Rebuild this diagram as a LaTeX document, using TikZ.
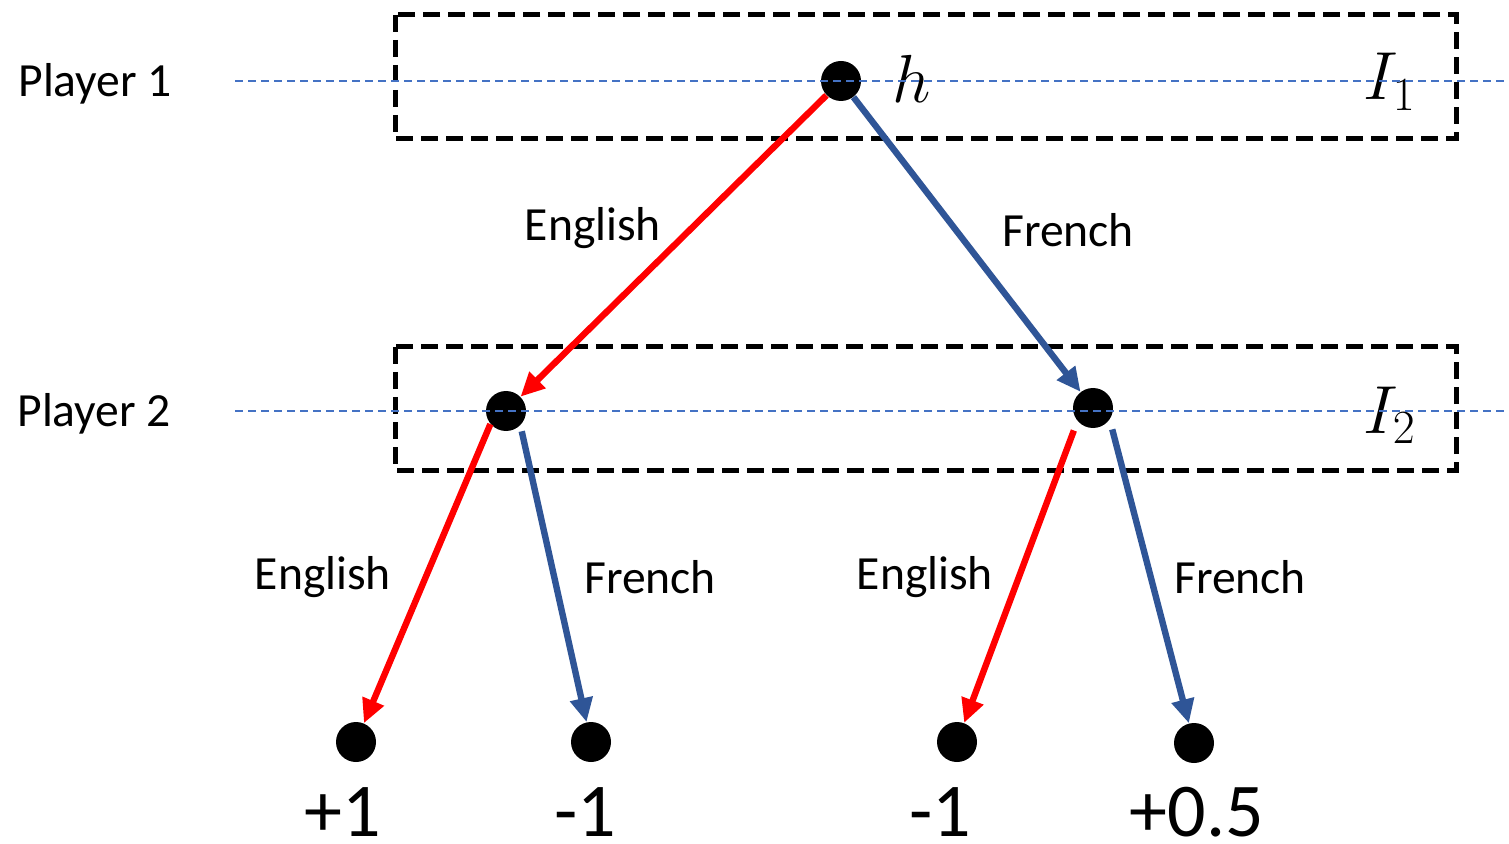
\documentclass[tikz,border=0pt]{standalone}
\usepackage{fix-cm}
\usepackage{fontspec}
\setmainfont{Carlito}
\usetikzlibrary{arrows.meta}
\definecolor{frblue}{RGB}{47,85,151}
\definecolor{lvblue}{RGB}{68,114,196}

\begin{document}
\begin{tikzpicture}[
  x=0.5pt, y=-0.5pt,
  dot/.style={circle, fill=black, minimum size=20pt, inner sep=0pt},
  eng/.style={-{Triangle[length=12pt,width=11pt]}, line width=3.2pt, draw=red},
  fre/.style={-{Triangle[length=12pt,width=11pt]}, line width=3.2pt, draw=frblue},
  infoset/.style={draw, line width=2.5pt, dash pattern=on 8.5pt off 4pt},
  level/.style={draw=lvblue, line width=0.8pt, dash pattern=on 4pt off 2.5pt},
  act/.style={font=\fontsize{23.8}{28}\selectfont},
  pay/.style={font=\fontsize{38}{44}\selectfont, anchor=base, inner sep=0pt, text depth=0pt},
  mlab/.style={font=\fontsize{34}{40}\selectfont, anchor=base west, inner sep=0pt}
]
  \useasboundingbox (0,0) rectangle (1509,844);

  % information sets
  \draw[infoset] (395,15) rectangle (1456,139);
  \draw[infoset] (395,347) rectangle (1456,470);

  % tree
  \node[dot] (root) at (841,81) {};
  \node[dot] (p2e) at (506,411) {};
  \node[dot] (p2f) at (1093,408) {};
  \node[dot] (ee) at (356,742) {};
  \node[dot] (ef) at (591,742) {};
  \node[dot] (fe) at (957,742) {};
  \node[dot] (ff) at (1194,743) {};

  \draw[eng] (root) -- (p2e);
  \draw[fre] (root) -- (p2f);
  \draw[eng] (p2e.-140) -- (ee);
  \draw[fre, shorten <=3pt] (p2e.-45) -- (ef);
  \draw[eng, shorten <=5pt] (p2f.-140) -- (fe);
  \draw[fre, shorten <=5pt] (p2f.-35) -- (ff);

  % action labels
  \node[act] (aE) at (593,228) {English};
  \node[act] (aF) at (1068,230) {French};
  \node[act] (bEE) at (323,577) {English};
  \node[act] (bEF) at (650,577) {French};
  \node[act] (bFE) at (925,577) {English};
  \node[act] (bFF) at (1240,577) {French};

  % payoffs
  \node[pay] (uEE) at (343,836) {+1};
  \node[pay] (uEF) at (585,836) {-1};
  \node[pay] (uFE) at (940,836) {-1};
  \node[pay] (uFF) at (1197,836) {+0.5};

  % players and sets
  \node[act, anchor=base west, inner sep=0pt] (pl1) at (18,97) {Player 1};
  \node[act, anchor=base west, inner sep=0pt] (pl2) at (17,426) {Player 2};
  \node[mlab] (hlab) at (892,103) {$h$};
  \node[mlab] (i1) at (1363,100) {$I_1$};
  \node[mlab] (i2) at (1363,433) {$I_2$};

  % player levels
  \draw[level] (235,81) -- (1509,81);
  \draw[level] (235,411) -- (1509,411);
\end{tikzpicture}
\end{document}
